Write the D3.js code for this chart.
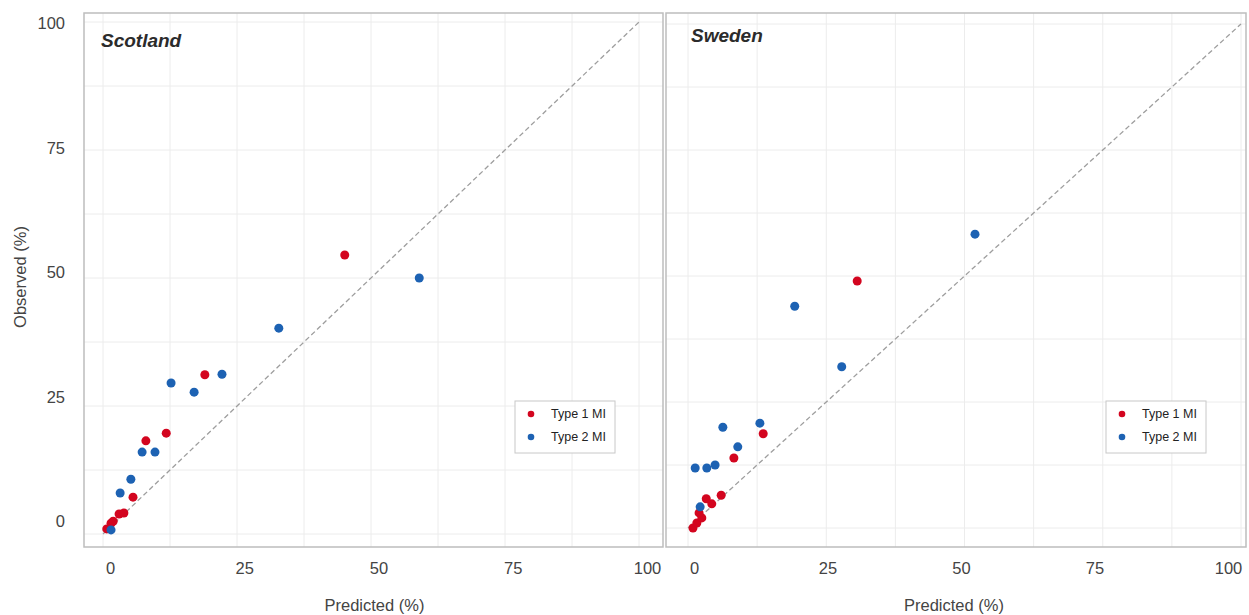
<!DOCTYPE html>
<html>
<head>
<meta charset="utf-8">
<script src="https://cdnjs.cloudflare.com/ajax/libs/d3/7.8.5/d3.min.js"></script>
<style>
  body { margin:0; background:#fff; }
  svg text { font-family:"Liberation Sans", Arial, sans-serif; }
</style>
</head>
<body>
<div id="chart"></div>
<script>
  var width=1249, height=615;

  // observed vs predicted (%), [predicted, observed]
  var scotlandType1 = [[0.7,1.0],[1.5,2.1],[1.9,2.5],[3.0,3.9],[3.9,4.1],[5.6,7.2],
                       [8.0,18.2],[11.8,19.7],[19.0,31.1],[45.1,54.5]];
  var scotlandType2 = [[1.5,0.8],[3.2,8.0],[5.2,10.7],[7.3,16.0],[9.7,16.0],[12.7,29.5],
                       [17.0,27.7],[22.2,31.2],[32.8,40.2],[59.0,50.0]];
  var swedenType1 = [[0.9,0.0],[1.6,1.0],[2.5,2.0],[2.0,3.0],[4.3,4.8],[3.3,5.8],
                     [6.0,6.5],[8.3,13.9],[13.6,18.7],[30.6,49.0]];
  var swedenType2 = [[2.2,4.2],[1.3,11.9],[3.4,11.9],[4.9,12.5],[9.0,16.1],[6.3,20.0],
                     [13.0,20.8],[27.8,32.0],[19.3,44.0],[51.9,58.3]];

  var panelNames = ["Scotland","Sweden"];
  var seriesNames = ["Type 1 MI","Type 2 MI"];
  var tickValues = [0,25,50,75,100];
  var gridValues = [0,12.5,25,37.5,50,62.5,75,87.5,100];

  var color = d3.scaleOrdinal().domain(seriesNames).range(["#d3051f","#1d62b3"]);

  var panels = [
    {name:panelNames[0], series:[scotlandType1,scotlandType2],
     box:{x0:84,x1:663,y0:13,y1:547},
     x:d3.scaleLinear().domain([0,100]).range([103,639]),
     y:d3.scaleLinear().domain([0,100]).range([534,22]),
     xl:d3.scaleLinear().domain([0,100]).range([110,647]),
     title:{x:101,y:47}, legend:{x:515,y:401}},
    {name:panelNames[1], series:[swedenType1,swedenType2],
     box:{x0:666,x1:1246,y0:13,y1:547},
     x:d3.scaleLinear().domain([0,100]).range([688,1241]),
     y:d3.scaleLinear().domain([0,100]).range([528,24]),
     xl:d3.scaleLinear().domain([0,100]).range([694,1228]),
     title:{x:691,y:42}, legend:{x:1106,y:401}}
  ];

  var svg = d3.select("#chart").append("svg")
              .attr("width",width).attr("height",height);

  panels.forEach(function(p){
    var g = svg.append("g");
    var clipId = "clip-"+p.name;
    g.append("clipPath").attr("id",clipId).append("rect")
     .attr("x",p.box.x0).attr("y",p.box.y0)
     .attr("width",p.box.x1-p.box.x0).attr("height",p.box.y1-p.box.y0);

    // grid
    var grid = g.append("g").attr("clip-path","url(#"+clipId+")");
    grid.selectAll("line.v").data(gridValues).enter().append("line")
        .attr("x1",d=>p.x(d)).attr("x2",d=>p.x(d))
        .attr("y1",p.box.y0).attr("y2",p.box.y1)
        .style("stroke","#ececec").style("stroke-width",1);
    grid.selectAll("line.h").data(gridValues).enter().append("line")
        .attr("y1",d=>p.y(d)).attr("y2",d=>p.y(d))
        .attr("x1",p.box.x0).attr("x2",p.box.x1)
        .style("stroke","#ececec").style("stroke-width",1);

    // identity line
    g.append("line")
     .attr("x1",p.x(0)).attr("y1",p.y(0))
     .attr("x2",p.x(100)).attr("y2",p.y(100))
     .style("stroke","#9e9e9e").style("stroke-width",1.3)
     .style("stroke-dasharray","5,3");

    // points
    p.series.forEach(function(s,i){
      g.append("g").selectAll("circle").data(s).enter().append("circle")
       .attr("cx",d=>p.x(d[0])).attr("cy",d=>p.y(d[1]))
       .attr("r",4.5)
       .style("fill",color(seriesNames[i]));
    });

    // frame
    g.append("rect")
     .attr("x",p.box.x0).attr("y",p.box.y0)
     .attr("width",p.box.x1-p.box.x0).attr("height",p.box.y1-p.box.y0)
     .style("fill","none").style("stroke","#bdbdbd").style("stroke-width",1.5);

    // title
    g.append("text").attr("x",p.title.x).attr("y",p.title.y)
     .text(p.name)
     .style("font-size","19px").style("font-weight","bold").style("font-style","italic")
     .style("fill","#2b2b2b");

    // legend
    var lg = g.append("g").attr("transform","translate("+p.legend.x+","+p.legend.y+")");
    lg.append("rect").attr("width",100).attr("height",52)
      .style("fill","#fff").style("stroke","#c8c8c8").style("stroke-width",1);
    seriesNames.forEach(function(n,i){
      lg.append("circle").attr("cx",16).attr("cy",13+i*23).attr("r",3.3)
        .style("fill",color(n));
      lg.append("text").attr("x",36).attr("y",13+i*23).attr("dy","0.35em")
        .text(n).style("font-size","12.5px").style("fill","#222");
    });

    // x axis
    var xAxis = d3.axisBottom(p.xl).tickValues(tickValues).tickSize(0).tickPadding(0);
    var xa = g.append("g").attr("transform","translate(0,568)").call(xAxis);
    xa.select(".domain").remove();
    xa.selectAll("text").attr("y",0).attr("dy","0.35em")
      .style("font-size","16.5px").style("fill","#444").style("font-family","Liberation Sans, Arial, sans-serif");

    g.append("text").attr("x",(p.box.x0+p.box.x1)/2+(p.name=="Scotland"?1:-2)).attr("y",605)
     .attr("dy","0.35em").attr("text-anchor","middle")
     .text("Predicted (%)").style("font-size","16.5px").style("fill","#444");
  });

  // y axis (left panel only)
  var yl = d3.scaleLinear().domain([0,100]).range([521,23]);
  var yAxis = d3.axisLeft(yl).tickValues(tickValues).tickSize(0).tickPadding(0);
  var ya = svg.append("g").attr("transform","translate(65,0)").call(yAxis);
  ya.select(".domain").remove();
  ya.selectAll("text").attr("x",0).attr("dy","0.35em")
    .style("font-size","16.5px").style("fill","#444").style("font-family","Liberation Sans, Arial, sans-serif");

  svg.append("text").attr("transform","translate(20,277) rotate(-90)")
     .attr("text-anchor","middle").attr("dy","0.35em")
     .text("Observed (%)").style("font-size","16.5px").style("fill","#444");
</script>
</body>
</html>
